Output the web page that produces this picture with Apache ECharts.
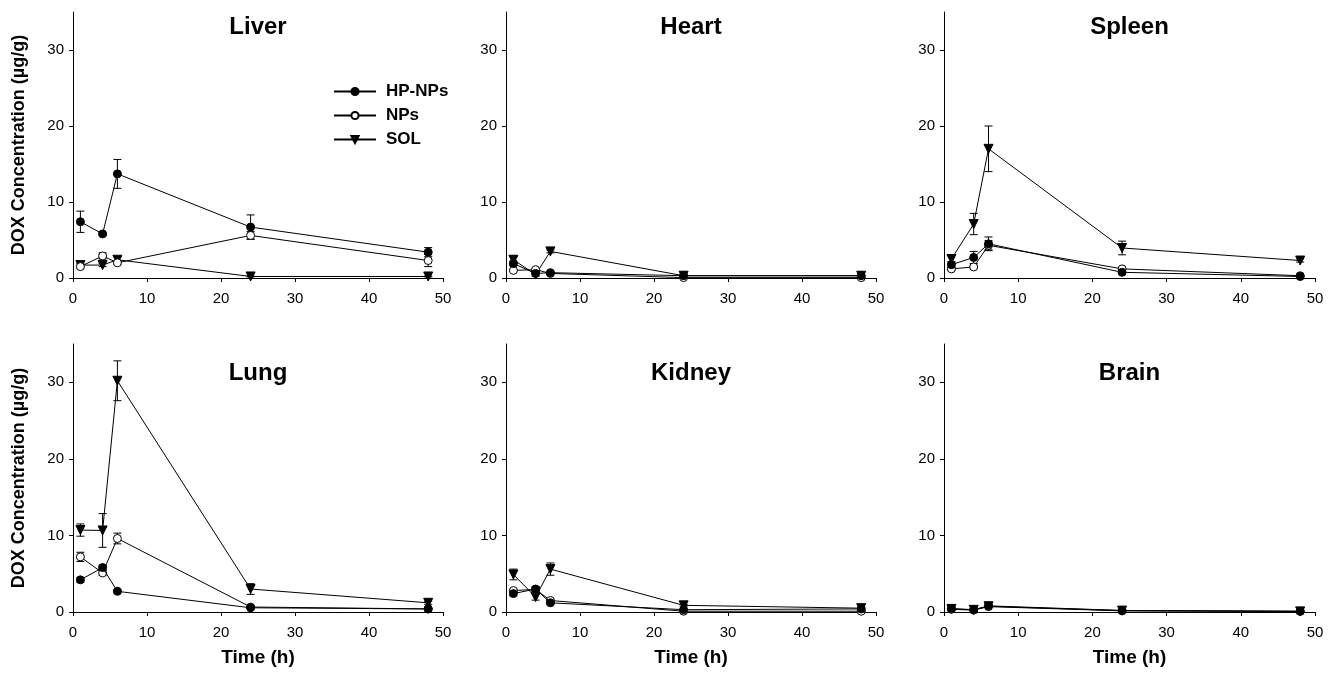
<!DOCTYPE html>
<html><head><meta charset="utf-8">
<script src="https://cdn.jsdelivr.net/npm/echarts@6/dist/echarts.min.js"></script>
</head>
<body style="margin:0;padding:0;background:#fff;">
<div id="chart" style="width:1336px;height:674px;"></div>
<script>
// sampling times (h) and organ panels, in reading order
const times = [1, 4, 6, 24, 48];
const organs = ['Liver', 'Heart', 'Spleen', 'Lung', 'Kidney', 'Brain'];
const xTicks = [0, 10, 20, 30, 40, 50];
const yTicks = [0, 10, 20, 30];

// mean DOX concentration (µg/g), one row per organ
const hpNps = [
  [7.4, 5.8, 13.7, 6.7, 3.4],
  [1.9, 0.6, 0.7, 0.3, 0.3],
  [1.75, 2.7, 4.5, 0.75, 0.2],
  [4.2, 5.8, 2.7, 0.55, 0.4],
  [2.4, 3.0, 1.2, 0.3, 0.4],
  [0.45, 0.3, 0.8, 0.2, 0.1],
];
const nps = [
  [1.5, 2.9, 2.0, 5.6, 2.3],
  [1.0, 1.1, 0.6, 0.05, 0.05],
  [1.2, 1.45, 4.3, 1.2, 0.3],
  [7.2, 5.1, 9.6, 0.65, 0.4],
  [2.8, 2.95, 1.5, 0.1, 0.1],
  [0.35, 0.25, 0.7, 0.15, 0.08],
];
const sol = [
  [1.7, 1.7, 2.4, 0.2, 0.2],
  [2.4, 0.45, 3.5, 0.3, 0.3],
  [2.5, 7.1, 17.0, 3.95, 2.3],
  [10.7, 10.65, 30.2, 3.0, 1.2],
  [4.9, 1.95, 5.6, 0.87, 0.5],
  [0.4, 0.28, 0.75, 0.18, 0.08],
];

// standard deviations, same layout
const hpNpsErr = [
  [1.4, 0.2, 1.9, 1.6, 0.6],
  [0.3, 0.1, 0.1, 0.05, 0.05],
  [0.4, 0.8, 0.9, 0.2, 0.1],
  [0.3, 0.3, 0.2, 0.1, 0.1],
  [0.3, 0.3, 0.2, 0.1, 0.1],
  [0.1, 0.1, 0.1, 0.05, 0.05],
];
const npsErr = [
  [0.2, 0.4, 0.2, 0.5, 0.8],
  [0.1, 0.1, 0.1, 0.05, 0.05],
  [0.2, 0.2, 0.6, 0.2, 0.1],
  [0.6, 0.3, 0.7, 0.1, 0.1],
  [0.2, 0.3, 0.2, 0.05, 0.05],
  [0.1, 0.1, 0.1, 0.05, 0.05],
];
const solErr = [
  [0.2, 0.2, 0.4, 0.05, 0.05],
  [0.5, 0.2, 0.2, 0.1, 0.1],
  [0.5, 1.4, 3.0, 0.9, 0.2],
  [0.8, 2.2, 2.6, 0.7, 0.2],
  [0.7, 0.4, 0.8, 0.1, 0.1],
  [0.1, 0.1, 0.1, 0.05, 0.05],
];

const FONT = 'Arial, "Liberation Sans", sans-serif';

// panel boxes in px
const colLeft = [73, 506, 944];
const colWidth = [370, 370, 371];
const rowTop = [12, 344];
const rowHeight = [266, 268];

// z keeps HP-NPs markers on top where points overlap
const seriesDefs = [
  { name: 'HP-NPs', vals: hpNps, errs: hpNpsErr, symbol: 'circle', size: 8, rotate: 0, fill: '#000', z: 5 },
  { name: 'NPs', vals: nps, errs: npsErr, symbol: 'circle', size: 8, rotate: 0, fill: '#fff', z: 4 },
  { name: 'SOL', vals: sol, errs: solErr, symbol: 'triangle', size: 9, rotate: 180, fill: '#000', z: 3 },
];

const grids = [], xAxes = [], yAxes = [], titles = [], series = [];

organs.forEach((organ, i) => {
  const row = Math.floor(i / 3), col = i % 3;
  grids.push({ left: colLeft[col], top: rowTop[row], width: colWidth[col], height: rowHeight[row] });

  xAxes.push({
    gridIndex: i, type: 'value', min: 0, max: 50, interval: 10,
    name: row === 1 ? 'Time (h)' : '', nameLocation: 'middle', nameGap: 36,
    nameTextStyle: { fontFamily: FONT, fontWeight: 'bold', fontSize: 19, color: '#000' },
    axisLine: { lineStyle: { color: '#000', width: 1 } },
    axisTick: { inside: false, length: 4, lineStyle: { color: '#000' } },
    axisLabel: { fontFamily: FONT, fontSize: 15, color: '#000', margin: 13, customValues: xTicks },
    splitLine: { show: false },
  });

  yAxes.push({
    gridIndex: i, type: 'value', min: 0, max: 35, interval: 10,
    name: col === 0 ? 'DOX Concentration (µg/g)' : '', nameLocation: 'middle', nameGap: 45,
    nameTextStyle: { fontFamily: FONT, fontWeight: 'bold', fontSize: 18, color: '#000' },
    axisLine: { show: true, lineStyle: { color: '#000', width: 1 } },
    axisTick: { show: true, inside: false, length: 4, lineStyle: { color: '#000' }, customValues: yTicks },
    axisLabel: { fontFamily: FONT, fontSize: 15, color: '#000', margin: 9, customValues: yTicks },
    splitLine: { show: false },
  });

  titles.push({
    text: organ,
    left: colLeft[col] + colWidth[col] / 2,
    top: rowTop[row] + (row === 0 ? 3 : 17),
    textAlign: 'center',
    padding: 0,
    textStyle: { fontFamily: FONT, fontWeight: 'bold', fontSize: 24, color: '#000' },
  });

  seriesDefs.forEach(def => {
    const vals = def.vals[i], errs = def.errs[i];
    // error bars first so markers sit on top
    series.push({
      type: 'custom', xAxisIndex: i, yAxisIndex: i, z: 2, silent: true,
      data: times.map((t, k) => [t, Math.max(0, vals[k] - errs[k]), vals[k] + errs[k]]),
      renderItem(params, api) {
        const x = api.value(0);
        const top = api.coord([x, api.value(2)]);
        const bot = api.coord([x, api.value(1)]);
        const w = 4;
        const st = { stroke: '#000', lineWidth: 1 };
        return {
          type: 'group',
          children: [
            { type: 'line', shape: { x1: top[0], y1: top[1], x2: bot[0], y2: bot[1] }, style: st },
            { type: 'line', shape: { x1: top[0] - w, y1: top[1], x2: top[0] + w, y2: top[1] }, style: st },
            { type: 'line', shape: { x1: bot[0] - w, y1: bot[1], x2: bot[0] + w, y2: bot[1] }, style: st },
          ],
        };
      },
    });
    series.push({
      name: def.name, type: 'line', xAxisIndex: i, yAxisIndex: i, z: def.z,
      data: times.map((t, k) => [t, vals[k]]),
      symbol: def.symbol, symbolSize: def.size, symbolRotate: def.rotate,
      showAllSymbol: true, animation: false,
      lineStyle: { color: '#000', width: 1 },
      itemStyle: { color: def.fill, borderColor: '#000', borderWidth: 1 },
    });
  });
});

const chart = echarts.init(document.getElementById('chart'));
chart.setOption({
  animation: false,
  backgroundColor: '#fff',
  title: titles,
  legend: {
    data: seriesDefs.map(d => d.name),
    orient: 'vertical',
    left: 328, top: 78,
    itemWidth: 42, itemHeight: 9, itemGap: 7,
    textStyle: { fontFamily: FONT, fontWeight: 'bold', fontSize: 17, color: '#000', padding: [0, 0, 0, 5] },
  },
  grid: grids,
  xAxis: xAxes,
  yAxis: yAxes,
  series,
});
</script>
</body></html>
